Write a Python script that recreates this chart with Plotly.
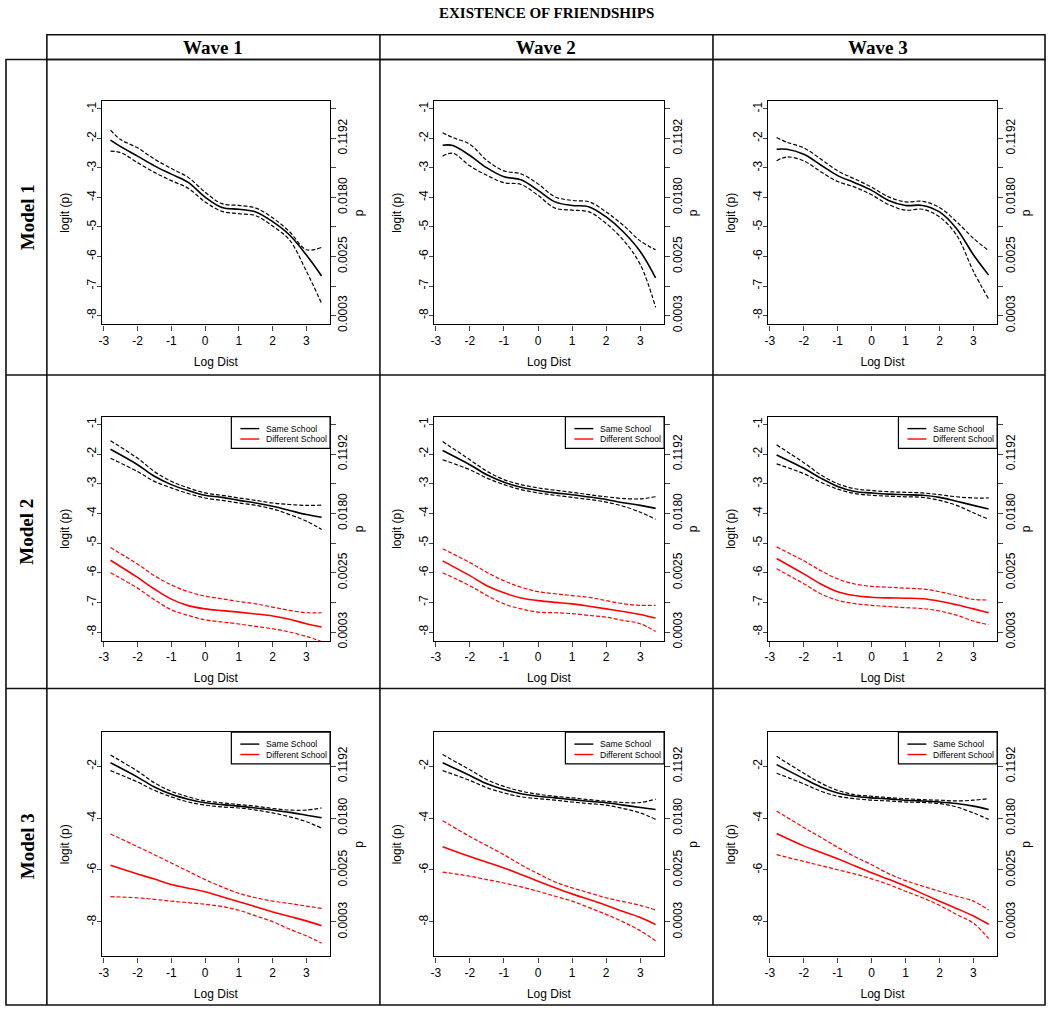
import math
import plotly.graph_objects as go

# log distance grid (Model 1 curves were read at one extra point)
x_m1 = [-2.8, -2.5, -2, -1.5, -1, -0.5, 0, 0.5, 1, 1.5, 2, 2.5, 3, 3.45]
x_m23 = [-2.8, -2, -1.5, -1, -0.5, 0, 0.5, 1, 1.5, 2, 2.5, 3, 3.45]

waves = ["Wave 1", "Wave 2", "Wave 3"]
models = ["Model 1", "Model 2", "Model 3"]
series_names = ["Same School", "Different School"]
series_colors = ["black", "red"]

# Model 1 (single curve)
m1w1_fit = [-2.06, -2.28, -2.6, -2.93, -3.21, -3.49, -3.99, -4.34, -4.4, -4.49, -4.82, -5.27, -5.95, -6.66]
m1w1_hi = [-1.72, -2.04, -2.32, -2.7, -3.02, -3.32, -3.82, -4.21, -4.27, -4.36, -4.69, -5.16, -5.77, -5.69]
m1w1_lo = [-2.43, -2.48, -2.82, -3.15, -3.43, -3.69, -4.15, -4.47, -4.55, -4.62, -4.97, -5.44, -6.5, -7.59]

m1w2_fit = [-2.23, -2.24, -2.58, -3.0, -3.3, -3.4, -3.76, -4.15, -4.27, -4.32, -4.66, -5.16, -5.83, -6.72]
m1w2_hi = [-1.81, -1.97, -2.2, -2.75, -3.1, -3.2, -3.54, -3.98, -4.1, -4.15, -4.49, -4.94, -5.47, -5.77]
m1w2_lo = [-2.6, -2.5, -2.93, -3.25, -3.5, -3.56, -3.93, -4.36, -4.43, -4.49, -4.88, -5.44, -6.27, -7.72]

m1w3_fit = [-2.37, -2.37, -2.54, -2.9, -3.26, -3.5, -3.76, -4.1, -4.27, -4.27, -4.49, -5.05, -5.94, -6.63]
m1w3_hi = [-1.97, -2.13, -2.32, -2.7, -3.1, -3.37, -3.65, -3.98, -4.15, -4.13, -4.34, -4.82, -5.38, -5.8]
m1w3_lo = [-2.76, -2.63, -2.76, -3.13, -3.46, -3.65, -3.91, -4.24, -4.43, -4.4, -4.66, -5.27, -6.5, -7.44]

# Model 2
m2w1_same_fit = [-1.84, -2.36, -2.75, -3.03, -3.23, -3.39, -3.46, -3.56, -3.65, -3.76, -3.9, -4.04, -4.13]
m2w1_same_hi = [-1.55, -2.14, -2.59, -2.92, -3.14, -3.31, -3.39, -3.48, -3.56, -3.65, -3.7, -3.73, -3.72]
m2w1_same_lo = [-2.14, -2.59, -2.92, -3.14, -3.33, -3.48, -3.56, -3.65, -3.73, -3.85, -4.04, -4.26, -4.54]
m2w1_diff_fit = [-5.58, -6.16, -6.55, -6.89, -7.11, -7.22, -7.28, -7.33, -7.39, -7.46, -7.57, -7.72, -7.83]
m2w1_diff_hi = [-5.15, -5.71, -6.1, -6.41, -6.64, -6.79, -6.88, -6.97, -7.05, -7.16, -7.27, -7.35, -7.35]
m2w1_diff_lo = [-6.0, -6.52, -6.91, -7.25, -7.44, -7.59, -7.66, -7.73, -7.81, -7.89, -8.0, -8.15, -8.32]

m2w2_same_fit = [-1.88, -2.36, -2.7, -2.95, -3.12, -3.23, -3.31, -3.37, -3.45, -3.53, -3.64, -3.73, -3.83]
m2w2_same_hi = [-1.58, -2.19, -2.58, -2.86, -3.03, -3.14, -3.22, -3.29, -3.37, -3.44, -3.5, -3.51, -3.44]
m2w2_same_lo = [-2.19, -2.53, -2.81, -3.03, -3.2, -3.31, -3.39, -3.46, -3.53, -3.62, -3.76, -3.96, -4.2]
m2w2_diff_fit = [-5.6, -6.1, -6.44, -6.68, -6.85, -6.94, -7.0, -7.05, -7.13, -7.22, -7.31, -7.41, -7.53]
m2w2_diff_hi = [-5.19, -5.66, -5.99, -6.27, -6.49, -6.64, -6.71, -6.77, -6.83, -6.94, -7.05, -7.1, -7.1]
m2w2_diff_lo = [-6.0, -6.44, -6.77, -7.05, -7.22, -7.33, -7.35, -7.38, -7.44, -7.5, -7.61, -7.72, -7.98]

m2w3_same_fit = [-2.03, -2.48, -2.81, -3.09, -3.26, -3.31, -3.35, -3.37, -3.39, -3.46, -3.59, -3.73, -3.85]
m2w3_same_hi = [-1.69, -2.29, -2.7, -3.0, -3.17, -3.23, -3.27, -3.29, -3.31, -3.37, -3.44, -3.48, -3.48]
m2w3_same_lo = [-2.33, -2.66, -2.95, -3.18, -3.33, -3.39, -3.42, -3.44, -3.46, -3.56, -3.73, -3.98, -4.2]
m2w3_diff_fit = [-5.52, -6.04, -6.38, -6.64, -6.77, -6.83, -6.85, -6.86, -6.88, -6.96, -7.08, -7.22, -7.35]
m2w3_diff_hi = [-5.13, -5.6, -5.93, -6.21, -6.38, -6.46, -6.49, -6.52, -6.55, -6.64, -6.77, -6.9, -6.92]
m2w3_diff_lo = [-5.87, -6.37, -6.71, -6.93, -7.04, -7.1, -7.14, -7.18, -7.21, -7.29, -7.43, -7.63, -7.75]

# Model 3
m3w1_same_fit = [-1.87, -2.42, -2.8, -3.08, -3.27, -3.41, -3.48, -3.54, -3.61, -3.69, -3.78, -3.89, -3.99]
m3w1_same_hi = [-1.57, -2.19, -2.64, -2.97, -3.18, -3.34, -3.41, -3.48, -3.54, -3.63, -3.69, -3.69, -3.61]
m3w1_same_lo = [-2.17, -2.61, -2.93, -3.18, -3.38, -3.5, -3.57, -3.61, -3.69, -3.8, -3.95, -4.14, -4.39]
m3w1_diff_fit = [-5.82, -6.15, -6.35, -6.56, -6.7, -6.84, -7.03, -7.22, -7.42, -7.62, -7.79, -7.96, -8.15]
m3w1_diff_hi = [-4.61, -5.1, -5.41, -5.73, -6.05, -6.37, -6.65, -6.9, -7.07, -7.2, -7.29, -7.39, -7.48]
m3w1_diff_lo = [-7.03, -7.07, -7.13, -7.2, -7.26, -7.32, -7.41, -7.55, -7.77, -7.99, -8.28, -8.54, -8.82]

m3w2_same_fit = [-1.87, -2.36, -2.68, -2.9, -3.06, -3.16, -3.22, -3.29, -3.35, -3.41, -3.5, -3.59, -3.67]
m3w2_same_hi = [-1.55, -2.14, -2.52, -2.78, -2.96, -3.08, -3.16, -3.22, -3.29, -3.35, -3.4, -3.4, -3.27]
m3w2_same_lo = [-2.17, -2.55, -2.83, -3.03, -3.18, -3.25, -3.31, -3.38, -3.44, -3.5, -3.63, -3.8, -4.05]
m3w2_diff_fit = [-5.1, -5.48, -5.7, -5.92, -6.17, -6.43, -6.68, -6.92, -7.14, -7.36, -7.6, -7.83, -8.1]
m3w2_diff_hi = [-4.1, -4.71, -5.06, -5.41, -5.8, -6.14, -6.46, -6.69, -6.88, -7.07, -7.22, -7.36, -7.54]
m3w2_diff_lo = [-6.08, -6.24, -6.37, -6.5, -6.65, -6.82, -7.01, -7.2, -7.45, -7.71, -8.0, -8.34, -8.73]

m3w3_same_fit = [-1.94, -2.48, -2.8, -3.03, -3.16, -3.22, -3.26, -3.31, -3.34, -3.38, -3.44, -3.54, -3.67]
m3w3_same_hi = [-1.62, -2.27, -2.65, -2.93, -3.1, -3.16, -3.21, -3.25, -3.29, -3.31, -3.34, -3.31, -3.25]
m3w3_same_lo = [-2.27, -2.68, -2.96, -3.16, -3.25, -3.31, -3.34, -3.38, -3.4, -3.44, -3.57, -3.8, -4.05]
m3w3_diff_fit = [-4.59, -5.07, -5.32, -5.57, -5.84, -6.11, -6.36, -6.62, -6.91, -7.2, -7.48, -7.77, -8.09]
m3w3_diff_hi = [-3.73, -4.36, -4.74, -5.13, -5.48, -5.8, -6.14, -6.41, -6.62, -6.82, -7.01, -7.2, -7.54]
m3w3_diff_lo = [-5.41, -5.67, -5.83, -5.99, -6.15, -6.34, -6.56, -6.82, -7.07, -7.36, -7.71, -8.05, -8.64]

x_ticks = [-3, -2, -1, 0, 1, 2, 3]
y_ticks_m12 = [-8, -7, -6, -5, -4, -3, -2, -1]
y_ticks_m3 = [-8, -6, -4, -2]

# panel[row][col] -> list of (fit, lo, hi) per school series
panels = [
    [[(m1w1_fit, m1w1_lo, m1w1_hi)],
     [(m1w2_fit, m1w2_lo, m1w2_hi)],
     [(m1w3_fit, m1w3_lo, m1w3_hi)]],
    [[(m2w1_same_fit, m2w1_same_lo, m2w1_same_hi), (m2w1_diff_fit, m2w1_diff_lo, m2w1_diff_hi)],
     [(m2w2_same_fit, m2w2_same_lo, m2w2_same_hi), (m2w2_diff_fit, m2w2_diff_lo, m2w2_diff_hi)],
     [(m2w3_same_fit, m2w3_same_lo, m2w3_same_hi), (m2w3_diff_fit, m2w3_diff_lo, m2w3_diff_hi)]],
    [[(m3w1_same_fit, m3w1_same_lo, m3w1_same_hi), (m3w1_diff_fit, m3w1_diff_lo, m3w1_diff_hi)],
     [(m3w2_same_fit, m3w2_same_lo, m3w2_same_hi), (m3w2_diff_fit, m3w2_diff_lo, m3w2_diff_hi)],
     [(m3w3_same_fit, m3w3_same_lo, m3w3_same_hi), (m3w3_diff_fit, m3w3_diff_lo, m3w3_diff_hi)]],
]

W, H = 1050, 1017
col_left = [99, 432, 767]
col_right = [328, 663, 997]
row_top = [102, 420, 738]
row_bot = [327, 646, 964]
y_ranges = [[-8.3, -0.74], [-8.3, -0.74], [-9.33, -0.69]]

sans = "Liberation Sans, Arial, sans-serif"
serif = "Liberation Serif, Times New Roman, serif"
tick_font = dict(family=sans, size=12, color="black")


def px(x):
    return x / W


def py(y):
    return 1 - y / H


def p_label(v):
    return "%.4f" % (1 / (1 + math.exp(-v)))


fig = go.Figure()
layout = {}
shapes = []
annotations = []

for r in range(3):
    for c in range(3):
        k = r * 3 + c + 1
        ka = "" if k == 1 else str(k)
        xs = x_m1 if r == 0 else x_m23
        for si, (fit, lo, hi) in enumerate(panels[r][c]):
            col = series_colors[si]
            for vals, dash, wdt in [(fit, "solid", 1.6), (lo, "4px,2px", 1.2), (hi, "4px,2px", 1.2)]:
                fig.add_trace(go.Scatter(
                    x=xs, y=vals, mode="lines",
                    line=dict(color=col, width=wdt, dash=dash, shape="spline", smoothing=1.0),
                    name=series_names[si], showlegend=False,
                    xaxis="x" + ka, yaxis="y" + ka, hoverinfo="skip",
                ))
        # empty trace so the right-hand p axis gets drawn
        fig.add_trace(go.Scatter(x=[None], y=[None], xaxis="x" + ka, yaxis="y%d" % (k + 9),
                                 showlegend=False, hoverinfo="skip"))

        yt = y_ticks_m3 if r == 2 else y_ticks_m12
        layout["xaxis" + ka] = dict(
            domain=[px(col_left[c]), px(col_right[c])], anchor="y" + ka,
            range=[-3.06, 3.7], tickvals=x_ticks, ticktext=[str(v) for v in x_ticks],
            ticks="outside", ticklen=5,
            showline=True, mirror=True, linecolor="black", linewidth=1.2,
            showgrid=False, zeroline=False, tickfont=tick_font,
            title=dict(text="Log Dist", font=tick_font, standoff=10),
        )
        layout["yaxis" + ka] = dict(
            domain=[py(row_bot[r]), py(row_top[r])], anchor="x" + ka,
            range=y_ranges[r], tickvals=yt, ticktext=[str(v) for v in yt],
            ticks="outside", ticklen=4, tickangle=-90, ticklabelstandoff=-4,
            showline=True, mirror=True, linecolor="black", linewidth=1.2,
            showgrid=False, zeroline=False, tickfont=tick_font,
            title=dict(text="logit (p)", font=tick_font, standoff=12),
        )
        layout["yaxis%d" % (k + 9)] = dict(
            overlaying="y" + ka, anchor="x" + ka, side="right",
            range=y_ranges[r], tickvals=yt,
            ticktext=[p_label(v) if v % 2 == 0 else "" for v in yt],
            ticks="outside", ticklen=5, tickangle=-90, ticklabelstandoff=-3,
            showline=False, showgrid=False, zeroline=False, tickfont=tick_font,
            title=dict(text="p", font=tick_font, standoff=5),
        )

        # boxed key in the top-right corner of the Model 2 / Model 3 panels
        if r > 0:
            bx1 = col_right[c]
            bx0 = bx1 - 99
            by0 = row_top[r]
            shapes.append(dict(type="rect", xref="paper", yref="paper",
                               x0=px(bx0), x1=px(bx1), y0=py(by0), y1=py(by0 + 32),
                               fillcolor="white", line=dict(color="black", width=1.2)))
            for si, name in enumerate(series_names):
                ly = by0 + 12 + 10.5 * si
                shapes.append(dict(type="line", xref="paper", yref="paper",
                                   x0=px(bx0 + 9), x1=px(bx0 + 28), y0=py(ly), y1=py(ly),
                                   line=dict(color=series_colors[si], width=1.4)))
                annotations.append(dict(text=name, xref="paper", yref="paper",
                                        x=px(bx0 + 33), y=py(ly), xanchor="left", yanchor="middle",
                                        showarrow=False,
                                        font=dict(family=sans, size=8.6, color="black")))

lw = dict(color="#111111", width=1.6)
frame = [
    dict(type="rect", x0=px(44), x1=px(1045), y0=py(35), y1=py(60)),
    dict(type="rect", x0=px(3), x1=px(1045), y0=py(60), y1=py(1013)),
    dict(type="line", x0=px(44), x1=px(44), y0=py(60), y1=py(1013)),
    dict(type="line", x0=px(378), x1=px(378), y0=py(35), y1=py(1013)),
    dict(type="line", x0=px(712), x1=px(712), y0=py(35), y1=py(1013)),
    dict(type="line", x0=px(3), x1=px(1045), y0=py(378), y1=py(378)),
    dict(type="line", x0=px(3), x1=px(1045), y0=py(694), y1=py(694)),
]
for s in frame:
    s.update(xref="paper", yref="paper", line=lw)
shapes = frame + shapes

annotations.append(dict(text="EXISTENCE OF FRIENDSHIPS", x=px(545), y=py(13), xref="paper", yref="paper",
                        xanchor="center", yanchor="middle", showarrow=False,
                        font=dict(family=serif, size=15, color="black", weight="bold")))
for cx, wv in zip([211, 545, 878], waves):
    annotations.append(dict(text=wv, x=px(cx), y=py(48), xref="paper", yref="paper",
                            xanchor="center", yanchor="middle", showarrow=False,
                            font=dict(family=serif, size=19, color="black", weight="bold")))
for cy, md in zip([219, 536, 853], models):
    annotations.append(dict(text=md, x=px(24), y=py(cy), xref="paper", yref="paper",
                            xanchor="center", yanchor="middle", showarrow=False, textangle=-90,
                            font=dict(family=serif, size=19, color="black", weight="bold")))

fig.update_layout(
    width=W, height=H, margin=dict(l=0, r=0, t=0, b=0),
    paper_bgcolor="white", plot_bgcolor="white", showlegend=False,
    shapes=shapes, annotations=annotations,
    **layout,
)

# page body has a default 8px margin; drop it so the figure sits at the window origin
fig.write_html("out.html", config={"displayModeBar": False},
               post_script="document.body.style.margin='0';")
